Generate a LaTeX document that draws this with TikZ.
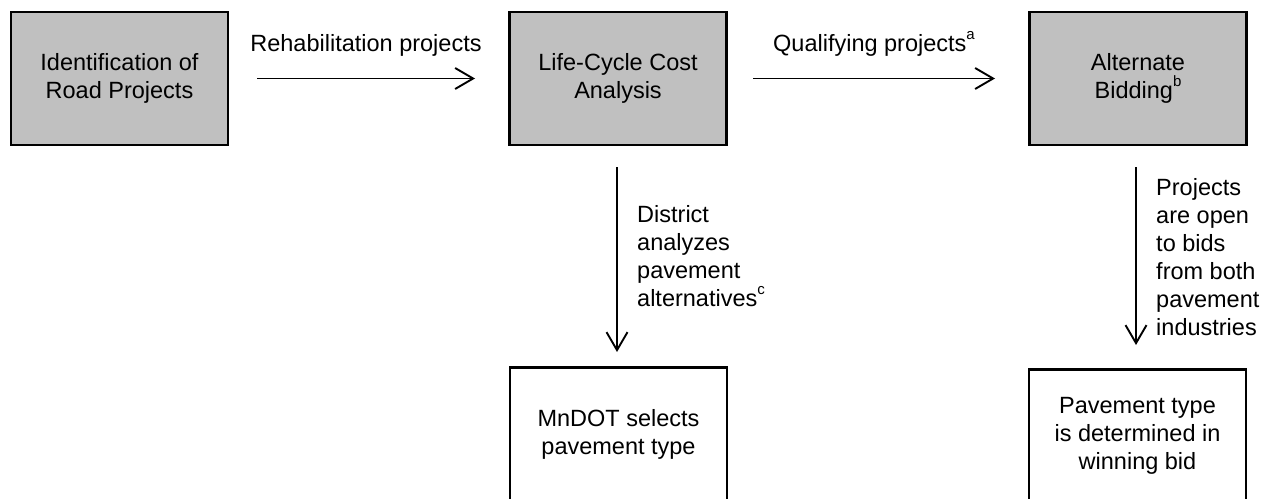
\documentclass[tikz,border=0pt]{standalone}
\usepackage{fontspec}
\setmainfont{Liberation Sans}
\usetikzlibrary{arrows.meta}
\tikzset{
  graybox/.style={draw=black, line width=2.6pt, fill=boxgray, minimum width=217pt, minimum height=133pt, align=center, inner sep=0pt, outer sep=0pt},
  whitebox/.style={graybox, fill=white},
  flowarrow/.style={line width=1.9pt, -{Straight Barb[length=18pt, width=21pt, line width=1.9pt]}},
  lbl/.style={inner sep=0pt, align=left}
}
\newcommand{\supmark}[1]{\raisebox{0.5em}{\fontsize{15}{15}\selectfont #1}}
\definecolor{boxgray}{HTML}{C0C0C0}
\begin{document}
\begin{tikzpicture}[x=1pt, y=-1pt, font=\fontsize{23.5}{28}\selectfont]
\useasboundingbox (0,0) rectangle (1265,498);
\node[graybox] (b1) at (119.5,78.5) {Identification of\\Road Projects};
\node[graybox] (b2) at (618,78.5) {Life-Cycle Cost\\Analysis};
\node[graybox] (b3) at (1138,78.5) {Alternate\\Bidding\supmark{b}};
\node[whitebox] (b4) at (618.5,434) {MnDOT selects\\pavement type};
\node[whitebox] (b5) at (1137.5,436) {Pavement type\\is determined in\\winning bid};

\draw[flowarrow] ([xshift=29pt]b1.east) -- ([xshift=-34.5pt]b2.west)
  node[midway, anchor=base, yshift=27pt, inner sep=0pt] (l1) {Rehabilitation projects};
\draw[flowarrow] ([xshift=26.5pt]b2.east) -- ([xshift=-34.5pt]b3.west)
  node[midway, anchor=base, yshift=27pt, inner sep=0pt] (l2) {Qualifying projects\supmark{a}};
\coordinate (s3) at ([xshift=-1pt, yshift=-22pt]b2.south);
\draw[flowarrow] (s3) -- ([xshift=-1.5pt, yshift=15.5pt]b4.north);
\node[lbl, anchor=north west] (l3) at ([xshift=20pt, yshift=-38pt]s3) {District\\analyzes\\pavement\\alternatives\supmark{c}};
\coordinate (s4) at ([xshift=-2pt, yshift=-22pt]b3.south);
\draw[flowarrow] (s4) -- ([xshift=-1.5pt, yshift=24.5pt]b5.north);
\node[lbl, anchor=north west] (l4) at ([xshift=20pt, yshift=-11pt]s4) {Projects\\are open\\to bids\\from both\\pavement\\industries};
\end{tikzpicture}
\end{document}
